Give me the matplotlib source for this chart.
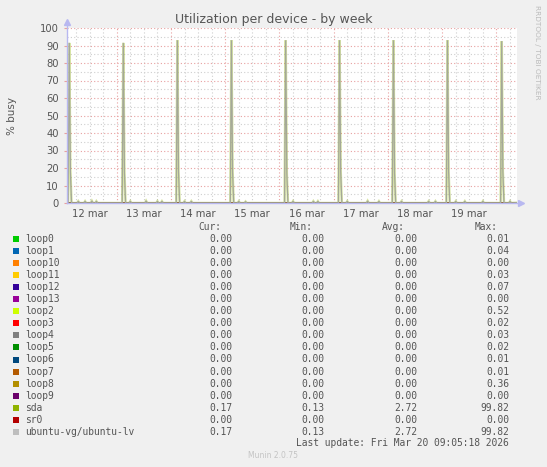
import matplotlib
matplotlib.use("Agg")
import matplotlib.pyplot as plt
from matplotlib.patches import Rectangle
from datetime import datetime, timedelta

# ---------------- data ----------------
devices = ["loop0", "loop1", "loop10", "loop11", "loop12", "loop13", "loop2", "loop3",
           "loop4", "loop5", "loop6", "loop7", "loop8", "loop9", "sda", "sr0",
           "ubuntu-vg/ubuntu-lv"]
colors = ["#00CC00", "#0066B3", "#FF8000", "#FFCC00", "#330099", "#990099", "#CCFF00", "#FF0000",
          "#808080", "#008F00", "#00487D", "#B35A00", "#B38F00", "#6B006B", "#8FB300", "#B30000",
          "#BEBEBE"]
cur_vals = [0.00] * 14 + [0.17, 0.00, 0.17]
min_vals = [0.00] * 14 + [0.13, 0.00, 0.13]
avg_vals = [0.00] * 14 + [2.72, 0.00, 2.72]
max_vals = [0.01, 0.04, 0.00, 0.03, 0.07, 0.00, 0.52, 0.02, 0.03, 0.02, 0.01, 0.01, 0.36, 0.00,
            99.82, 0.00, 99.82]

x_start = "2026-03-12 02:00"
x_end = "2026-03-20 09:05:18"
day_labels = ["12 mar", "13 mar", "14 mar", "15 mar", "16 mar", "17 mar", "18 mar", "19 mar"]
label_days = ["2026-03-12", "2026-03-13", "2026-03-14", "2026-03-15",
              "2026-03-16", "2026-03-17", "2026-03-18", "2026-03-19"]

# sda / ubuntu-lv daily spikes (30 min samples)
spike_times = ["2026-03-12 03:00", "2026-03-13 02:55", "2026-03-14 02:50", "2026-03-15 02:45",
               "2026-03-16 02:45", "2026-03-17 02:35", "2026-03-18 02:25", "2026-03-19 02:20",
               "2026-03-20 02:20"]
spike_peaks = [91.5, 91.5, 93.0, 93.0, 93.0, 93.0, 93.0, 93.0, 92.5]
spike_shoulders = [18.0, 17.0, 18.0, 18.0, 17.0, 18.0, 17.0, 18.0, 18.0]
# small bumps near the baseline
bump_times = ["2026-03-12 07:00", "2026-03-12 10:00", "2026-03-12 13:00", "2026-03-12 15:00",
              "2026-03-13 06:00", "2026-03-13 13:00", "2026-03-13 18:00", "2026-03-13 20:00",
              "2026-03-14 06:00", "2026-03-14 09:00", "2026-03-15 06:00", "2026-03-15 09:00",
              "2026-03-16 06:00", "2026-03-16 15:00", "2026-03-16 17:00", "2026-03-17 06:00",
              "2026-03-17 15:00", "2026-03-17 20:00", "2026-03-18 06:00", "2026-03-18 18:00",
              "2026-03-18 21:00", "2026-03-19 06:00", "2026-03-19 10:00", "2026-03-19 18:00",
              "2026-03-20 06:00"]
bump_vals = [1.0, 1.0, 1.2, 1.0, 1.0, 1.2, 1.0, 1.0, 1.0, 1.0, 1.0, 0.8, 1.0, 1.0, 1.0,
             1.0, 1.2, 1.0, 1.0, 1.0, 1.0, 1.0, 1.0, 1.0, 1.0]

# ---------------- build series ----------------
P = lambda s: datetime.fromisoformat(s)
step = timedelta(minutes=30)
pts = {P(x_start): 0.0, P(x_end): 0.17}
for t, pk, sh in zip(spike_times, spike_peaks, spike_shoulders):
    t = P(t)
    pts[t - step] = 0.0
    pts[t] = pk
    pts[t + step] = sh
    pts[t + 2 * step] = 0.0
for t, v in zip(bump_times, bump_vals):
    t = P(t)
    pts.setdefault(t - step, 0.0)
    pts[t] = v
    pts.setdefault(t + step, 0.0)
ts = sorted(pts)
sda_y = [pts[t] for t in ts]

# ---------------- figure ----------------
W, H = 547, 467
fig = plt.figure(figsize=(W / 100, H / 100), dpi=100, facecolor="#F0F0F0")
L, R, T, B = 67, 517, 28, 203
ax = fig.add_axes([L / W, 1 - B / H, (R - L) / W, (B - T) / H])
ax.set_facecolor("white")

def fx(x):
    return x / W

def fy(y):
    return 1 - y / H

xs, xe = P(x_start), P(x_end)
ax.set_xlim(xs, xe)
ax.set_ylim(0, 100)

# grid
for d in range(13, 21):
    ax.axvline(datetime(2026, 3, d), color="#E8A0A0", lw=0.8, ls=(0, (1, 2)), zorder=1)
for d in range(12, 21):
    for h in (6, 12, 18):
        t = datetime(2026, 3, d, h)
        if xs < t < xe:
            ax.axvline(t, color="#CFCFCF", lw=0.8, ls=(0, (1, 2)), zorder=0.5)
for v in range(10, 101, 10):
    ax.axhline(v, color="#E8A0A0", lw=0.8, ls=(0, (1, 2)), zorder=1)
for v in range(5, 100, 10):
    ax.axhline(v, color="#CFCFCF", lw=0.8, ls=(0, (1, 2)), zorder=0.5)

# series
for name, c in zip(devices, colors):
    if name in ("sda", "ubuntu-vg/ubuntu-lv"):
        continue
    ax.plot([xs, xe], [0, 0], color=c, lw=1.0, zorder=2)
ax.plot(ts, sda_y, color="#8FB300", lw=1.8, alpha=0.35, zorder=3, solid_joinstyle="miter")
ax.plot(ts, sda_y, color="#A4A898", lw=0.9, zorder=3.5, solid_joinstyle="miter")

# axes lines with arrows
for s in ax.spines.values():
    s.set_visible(False)
axcol = "#B8B8F0"
ax.plot([0, 0], [0, 1.03], transform=ax.transAxes, color=axcol, lw=1.0, clip_on=False, zorder=5)
ax.plot([0, 1.008], [0, 0], transform=ax.transAxes, color=axcol, lw=1.0, clip_on=False, zorder=5)
ax.plot([0], [1.034], marker="^", ms=5, color=axcol, transform=ax.transAxes, clip_on=False, zorder=5)
ax.plot([1.008], [0], marker=">", ms=5, color=axcol, transform=ax.transAxes, clip_on=False, zorder=5)

# ticks
txtcol = "#555555"
ax.set_yticks(range(0, 101, 10))
ax.set_yticklabels([str(v) for v in range(0, 101, 10)], fontsize=7.2, color=txtcol,
                   family="DejaVu Sans")
ax.tick_params(axis="y", length=2, width=0.8, color="#E8A0A0", pad=4)
ax.set_xticks([P(d) + timedelta(hours=12) for d in label_days])
ax.set_xticklabels(day_labels, fontsize=7.2, color=txtcol, family="DejaVu Sans")
ax.tick_params(axis="x", length=0, pad=4)

# texts
fig.text(0.5, fy(19), "Utilization per device - by week", ha="center", va="center",
         fontsize=9.0, color=txtcol, family="DejaVu Sans")
fig.text(fx(12), fy(116), "% busy", ha="center", va="center", rotation=90,
         fontsize=7.5, color=txtcol, family="DejaVu Sans")
fig.text(fx(537), fy(5), "RRDTOOL / TOBI OETIKER", ha="center", va="top", rotation=270,
         fontsize=5.3, color="#BBBBBB", family="DejaVu Sans")
fig.text(0.5, fy(456), "Munin 2.0.75", ha="center", va="center",
         fontsize=5.5, color="#C4C4C4", family="DejaVu Sans")

# legend
mono = dict(family="DejaVu Sans Mono", fontsize=6.9, color=txtcol, va="center")
headers = ["Cur:", "Min:", "Avg:", "Max:"]
head_x = [198, 290, 382, 475]
val_x = [232, 324, 417, 509]
for hx, h in zip(head_x, headers):
    fig.text(fx(hx), fy(227.5), h, ha="left", **mono)
y0, dy = 239.3, 12.02
for i, name in enumerate(devices):
    y = y0 + i * dy
    fig.patches.append(Rectangle((fx(13), fy(y + 3)), 6 / W, 6 / H, transform=fig.transFigure,
                                 facecolor=colors[i], edgecolor="none"))
    fig.text(fx(25), fy(y), name, ha="left", **mono)
    for vx, vals in zip(val_x, (cur_vals, min_vals, avg_vals, max_vals)):
        fig.text(fx(vx), fy(y), f"{vals[i]:.2f}", ha="right", **mono)
fig.text(fx(509), fy(443.5), "Last update: Fri Mar 20 09:05:18 2026", ha="right", **mono)

fig.savefig("out.png", dpi=100, facecolor=fig.get_facecolor())
